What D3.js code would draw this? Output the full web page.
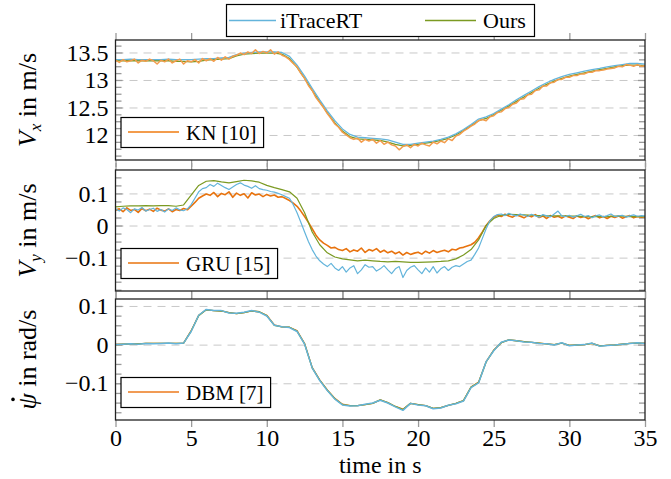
<!DOCTYPE html>
<html lang="en">
<head>
<meta charset="utf-8">
<script src="https://cdn.jsdelivr.net/npm/d3@7"></script>
</head>
<body style="margin:0">
<script>

// sample times (s)
let tHalf = [0, 0.5, 1, 1.5, 2, 2.5, 3, 3.5, 4, 4.5,
    5, 5.5, 6, 6.5, 7, 7.5, 8, 8.5, 9, 9.5,
    10, 10.5, 11, 11.5, 12, 12.5, 13, 13.5, 14, 14.5,
    15, 15.5, 16, 16.5, 17, 17.5, 18, 18.5, 19, 19.5,
    20, 20.5, 21, 21.5, 22, 22.5, 23, 23.5, 24, 24.5,
    25, 25.5, 26, 26.5, 27, 27.5, 28, 28.5, 29, 29.5,
    30, 30.5, 31, 31.5, 32, 32.5, 33, 33.5, 34, 34.5,
    35];

let tQuarter = [0, 0.25, 0.5, 0.75, 1, 1.25, 1.5, 1.75, 2, 2.25, 2.5, 2.75, 3, 3.25, 3.5, 3.75, 4, 4.25, 4.5, 4.75,
    5, 5.25, 5.5, 5.75, 6, 6.25, 6.5, 6.75, 7, 7.25, 7.5, 7.75, 8, 8.25, 8.5, 8.75, 9, 9.25, 9.5, 9.75,
    10, 10.25, 10.5, 10.75, 11, 11.25, 11.5, 11.75, 12, 12.25, 12.5, 12.75, 13, 13.25, 13.5, 13.75, 14, 14.25, 14.5, 14.75,
    15, 15.25, 15.5, 15.75, 16, 16.25, 16.5, 16.75, 17, 17.25, 17.5, 17.75, 18, 18.25, 18.5, 18.75, 19, 19.25, 19.5, 19.75,
    20, 20.25, 20.5, 20.75, 21, 21.25, 21.5, 21.75, 22, 22.25, 22.5, 22.75, 23, 23.25, 23.5, 23.75, 24, 24.25, 24.5, 24.75,
    25, 25.25, 25.5, 25.75, 26, 26.25, 26.5, 26.75, 27, 27.25, 27.5, 27.75, 28, 28.25, 28.5, 28.75, 29, 29.25, 29.5, 29.75,
    30, 30.25, 30.5, 30.75, 31, 31.25, 31.5, 31.75, 32, 32.25, 32.5, 32.75, 33, 33.25, 33.5, 33.75, 34, 34.25, 34.5, 34.75,
    35];

// V_x in m/s
let vxITrace = [13.37, 13.37, 13.38, 13.37, 13.37, 13.37, 13.37, 13.38, 13.37, 13.37,
    13.37, 13.38, 13.39, 13.39, 13.40, 13.41, 13.46, 13.49, 13.50, 13.51,
    13.51, 13.51, 13.50, 13.43, 13.27, 13.07, 12.85, 12.64, 12.44, 12.26,
    12.11, 12.01, 11.96, 11.95, 11.94, 11.93, 11.91, 11.87, 11.83, 11.83,
    11.85, 11.87, 11.89, 11.92, 11.96, 12.02, 12.10, 12.19, 12.29, 12.33,
    12.39, 12.47, 12.55, 12.64, 12.72, 12.80, 12.88, 12.95, 13.01, 13.06,
    13.10, 13.13, 13.16, 13.19, 13.21, 13.24, 13.26, 13.28, 13.30, 13.30,
    13.29];
let vxOurs = [13.35, 13.35, 13.35, 13.35, 13.35, 13.35, 13.35, 13.35, 13.34, 13.34,
    13.33, 13.34, 13.36, 13.37, 13.38, 13.39, 13.44, 13.47, 13.48, 13.49,
    13.49, 13.49, 13.47, 13.39, 13.23, 13.03, 12.81, 12.60, 12.40, 12.22,
    12.07, 11.97, 11.93, 11.92, 11.91, 11.90, 11.87, 11.83, 11.80, 11.81,
    11.83, 11.85, 11.87, 11.90, 11.94, 12.00, 12.08, 12.17, 12.26, 12.30,
    12.37, 12.45, 12.53, 12.61, 12.69, 12.77, 12.85, 12.92, 12.98, 13.03,
    13.07, 13.10, 13.13, 13.16, 13.19, 13.21, 13.24, 13.26, 13.27, 13.27,
    13.26];
let vxKN = [13.36, 13.32, 13.37, 13.33, 13.35, 13.38, 13.31, 13.36, 13.34, 13.38, 13.35, 13.29, 13.36, 13.33, 13.38, 13.31, 13.35, 13.38, 13.29, 13.35,
    13.33, 13.37, 13.31, 13.39, 13.35, 13.39, 13.34, 13.41, 13.36, 13.42, 13.38, 13.43, 13.45, 13.49, 13.46, 13.51, 13.48, 13.55, 13.48, 13.52,
    13.49, 13.55, 13.47, 13.51, 13.45, 13.42, 13.37, 13.30, 13.24, 13.12, 13.03, 12.90, 12.81, 12.68, 12.59, 12.50, 12.39, 12.30, 12.20, 12.14,
    12.05, 12.00, 11.95, 11.92, 11.94, 11.87, 11.92, 11.89, 11.92, 11.85, 11.90, 11.83, 11.87, 11.82, 11.80, 11.73, 11.79, 11.82, 11.77, 11.83,
    11.80, 11.85, 11.82, 11.80, 11.87, 11.84, 11.89, 11.86, 11.93, 11.90, 11.98, 12.01, 12.07, 12.11, 12.16, 12.20, 12.26, 12.28, 12.26, 12.33,
    12.35, 12.41, 12.42, 12.48, 12.50, 12.56, 12.58, 12.65, 12.66, 12.73, 12.74, 12.81, 12.82, 12.89, 12.89, 12.95, 12.96, 13.01, 13.01, 13.05,
    13.05, 13.08, 13.08, 13.11, 13.11, 13.14, 13.14, 13.17, 13.17, 13.18, 13.20, 13.21, 13.22, 13.25, 13.24, 13.28, 13.27, 13.25, 13.28, 13.25,
    13.26];

// V_y in m/s
let vyITrace = [0.052, 0.045, 0.055, 0.050, 0.040, 0.052, 0.048, 0.056, 0.045, 0.050, 0.054, 0.044, 0.050, 0.042, 0.052, 0.047, 0.055, 0.049, 0.046, 0.052,
    0.065, 0.085, 0.105, 0.115, 0.118, 0.128, 0.122, 0.132, 0.125, 0.118, 0.112, 0.120, 0.128, 0.133, 0.126, 0.122, 0.116, 0.124, 0.115, 0.112,
    0.110, 0.106, 0.104, 0.100, 0.096, 0.090, 0.085, 0.065, 0.040, 0.010, -0.020, -0.050, -0.075, -0.095, -0.110, -0.120, -0.128, -0.118, -0.132, -0.140,
    -0.128, -0.145, -0.132, -0.125, -0.150, -0.138, -0.122, -0.130, -0.128, -0.142, -0.135, -0.125, -0.138, -0.150, -0.135, -0.128, -0.162, -0.140, -0.130, -0.125,
    -0.138, -0.150, -0.132, -0.145, -0.128, -0.148, -0.135, -0.128, -0.140, -0.130, -0.125, -0.128, -0.120, -0.112, -0.108, -0.090, -0.070, -0.040, -0.010, 0.015,
    0.028, 0.034, 0.036, 0.031, 0.038, 0.033, 0.030, 0.036, 0.032, 0.028, 0.035, 0.030, 0.026, 0.034, 0.030, 0.027, 0.036, 0.045, 0.030, 0.028,
    0.032, 0.026, 0.030, 0.035, 0.028, 0.031, 0.024, 0.030, 0.033, 0.027, 0.031, 0.036, 0.028, 0.030, 0.032, 0.026, 0.030, 0.033, 0.029, 0.031,
    0.030];
let vyOurs = [0.058, 0.060, 0.061, 0.061, 0.062, 0.061, 0.062, 0.062, 0.060, 0.064,
    0.095, 0.125, 0.138, 0.140, 0.136, 0.133, 0.137, 0.141, 0.139, 0.135,
    0.125, 0.118, 0.112, 0.105, 0.085, 0.040, -0.020, -0.060, -0.085, -0.098,
    -0.104, -0.107, -0.110, -0.108, -0.110, -0.112, -0.113, -0.112, -0.113, -0.115,
    -0.115, -0.114, -0.113, -0.112, -0.110, -0.104, -0.092, -0.075, -0.045, 0.000,
    0.022, 0.032, 0.035, 0.034, 0.033, 0.032, 0.031, 0.030, 0.030, 0.030,
    0.029, 0.029, 0.028, 0.028, 0.028, 0.028, 0.029, 0.029, 0.028, 0.028,
    0.028];
let vyGRU = [0.048, 0.052, 0.043, 0.055, 0.047, 0.050, 0.041, 0.053, 0.046, 0.051, 0.044, 0.054, 0.048, 0.045, 0.052, 0.043, 0.050, 0.047, 0.053, 0.049,
    0.060, 0.072, 0.085, 0.092, 0.098, 0.094, 0.103, 0.090, 0.100, 0.096, 0.105, 0.088, 0.101, 0.094, 0.099, 0.086, 0.102, 0.095, 0.098, 0.090,
    0.097, 0.092, 0.095, 0.088, 0.090, 0.084, 0.078, 0.070, 0.060, 0.045, 0.028, 0.010, -0.010, -0.030, -0.045, -0.055, -0.062, -0.070, -0.068, -0.075,
    -0.078, -0.072, -0.082, -0.076, -0.080, -0.070, -0.084, -0.075, -0.079, -0.072, -0.083, -0.077, -0.085, -0.080, -0.088, -0.082, -0.092, -0.084, -0.090, -0.086,
    -0.083, -0.089, -0.080, -0.086, -0.078, -0.084, -0.080, -0.077, -0.082, -0.074, -0.076, -0.070, -0.068, -0.064, -0.060, -0.052, -0.038, -0.020, 0.000, 0.015,
    0.026, 0.032, 0.028, 0.035, 0.030, 0.026, 0.033, 0.029, 0.024, 0.031, 0.027, 0.034, 0.025, 0.030, 0.022, 0.031, 0.026, 0.029, 0.023, 0.030,
    0.026, 0.022, 0.030, 0.025, 0.028, 0.021, 0.027, 0.031, 0.024, 0.028, 0.022, 0.029, 0.025, 0.030, 0.023, 0.027, 0.031, 0.024, 0.028, 0.026,
    0.027];

// yaw rate in rad/s
let yrITrace = [0.000, 0.001, 0.002, 0.001, 0.003, 0.002, 0.003, 0.004, 0.002, 0.004,
    0.034, 0.076, 0.091, 0.088, 0.088, 0.082, 0.081, 0.084, 0.088, 0.084,
    0.074, 0.050, 0.046, 0.044, 0.034, 0.001, -0.060, -0.093, -0.119, -0.141,
    -0.156, -0.159, -0.158, -0.154, -0.151, -0.144, -0.151, -0.161, -0.170, -0.152,
    -0.156, -0.158, -0.166, -0.164, -0.157, -0.153, -0.146, -0.111, -0.099, -0.044,
    -0.016, 0.006, 0.012, 0.010, 0.007, 0.006, 0.003, 0.002, -0.001, 0.005,
    -0.003, -0.001, 0.000, 0.004, -0.004, -0.002, -0.001, 0.001, 0.003, 0.005,
    0.003];
let yrOurs = [0.000, 0.001, 0.002, 0.002, 0.003, 0.003, 0.003, 0.003, 0.003, 0.004,
    0.035, 0.075, 0.090, 0.088, 0.087, 0.083, 0.080, 0.083, 0.087, 0.085,
    0.075, 0.050, 0.046, 0.045, 0.035, 0.002, -0.060, -0.092, -0.118, -0.140,
    -0.155, -0.158, -0.158, -0.155, -0.152, -0.143, -0.150, -0.160, -0.168, -0.152,
    -0.155, -0.158, -0.165, -0.163, -0.157, -0.152, -0.145, -0.110, -0.098, -0.045,
    -0.015, 0.005, 0.012, 0.010, 0.008, 0.006, 0.004, 0.002, 0.000, 0.004,
    -0.002, -0.001, 0.000, 0.003, -0.003, -0.002, -0.001, 0.001, 0.003, 0.004,
    0.003];
let yrDBM = [0.001, 0.001, 0.002, 0.002, 0.003, 0.003, 0.003, 0.003, 0.003, 0.004,
    0.036, 0.076, 0.090, 0.088, 0.087, 0.083, 0.080, 0.083, 0.087, 0.085,
    0.076, 0.051, 0.046, 0.045, 0.036, 0.003, -0.059, -0.091, -0.117, -0.139,
    -0.154, -0.158, -0.158, -0.155, -0.152, -0.143, -0.150, -0.160, -0.167, -0.152,
    -0.155, -0.158, -0.165, -0.163, -0.157, -0.152, -0.145, -0.110, -0.097, -0.044,
    -0.014, 0.005, 0.012, 0.010, 0.008, 0.006, 0.004, 0.002, 0.000, 0.004,
    -0.002, -0.001, 0.000, 0.003, -0.003, -0.002, -0.001, 0.001, 0.003, 0.004,
    0.004];

let xTicks = [0, 5, 10, 15, 20, 25, 30, 35];

// styles
let blue = "#63b4db";
let olive = "#7b9a22";
let serifFont = "'Liberation Serif'";

let w = 671;
let h = 479;
let left = 115.5, right = 645;

let svg = d3.select("body")
    .append("svg")
    .attr("width", w)
    .attr("height", h);

let x = d3.scaleLinear().domain([0, 35]).range([left, right]);

let panels = [
    {top: 40, bottom: 160, domain: [11.545, 13.727], major: [12, 12.5, 13, 13.5], step: 0.125,
        label: ["V", "x", " in m/s"], legend: "KN [10]", legendColor: "#f39c4c", legendWidth: 2.2,
        series: [
            {t: tHalf, v: vxOurs, color: olive, width: 1.3},
            {t: tHalf, v: vxITrace, color: blue, width: 1.3},
            {t: tQuarter, v: vxKN, color: "#f39c4c", width: 1.5}
        ]},
    {top: 170, bottom: 291, domain: [-0.204, 0.173], major: [-0.1, 0, 0.1], step: 0.025,
        label: ["V", "y", " in m/s"], legend: "GRU [15]", legendColor: "#e8730e", legendWidth: 1.5,
        series: [
            {t: tQuarter, v: vyGRU, color: "#e8730e", width: 1.6},
            {t: tHalf, v: vyOurs, color: olive, width: 1.2},
            {t: tQuarter, v: vyITrace, color: blue, width: 1.2}
        ]},
    {top: 299, bottom: 420, domain: [-0.195, 0.118], major: [-0.1, 0, 0.1], step: 0.025,
        label: ["ψ", "", " in rad/s"], legend: "DBM [7]", legendColor: "#ec7a1c", legendWidth: 1.5,
        series: [
            {t: tHalf, v: yrDBM, color: "#ec7a1c", width: 1.3},
            {t: tHalf, v: yrOurs, color: olive, width: 1.3},
            {t: tHalf, v: yrITrace, color: blue, width: 1.5}
        ]}
];

let fmt = d3.format("~g");

panels.forEach(function (p, i) {
    let y = d3.scaleLinear().domain(p.domain).range([p.bottom, p.top]);
    let g = svg.append("g");

    // dashed grid
    g.append("g")
        .attr("transform", "translate(" + left + ",0)")
        .call(d3.axisLeft(y).tickValues(p.major).tickSize(-(right - left)).tickFormat(""))
        .call(s => s.select(".domain").remove())
        .selectAll("line")
        .attr("stroke", "#c8c8c8")
        .attr("stroke-width", 1)
        .attr("stroke-dasharray", "8,6");

    // minor ticks, both sides
    let minor = d3.range(Math.ceil(p.domain[0] / p.step) * p.step, p.domain[1], p.step)
        .filter(v => !p.major.some(m => Math.abs(m - v) < 1e-6));
    [[d3.axisLeft, left], [d3.axisRight, right]].forEach(function (a) {
        g.append("g")
            .attr("transform", "translate(" + a[1] + ",0)")
            .call(a[0](y).tickValues(minor).tickSize(-6).tickFormat(""))
            .call(s => s.select(".domain").remove())
            .selectAll("line")
            .attr("stroke", "#9a9a9a")
            .attr("stroke-width", 1.3);
        g.append("g")
            .attr("transform", "translate(" + a[1] + ",0)")
            .call(a[0](y).tickValues(p.major).tickSize(-7).tickFormat(""))
            .call(s => s.select(".domain").remove())
            .selectAll("line")
            .attr("stroke", "#9a9a9a")
            .attr("stroke-width", 1.3);
    });

    // x ticks top and bottom
    [[d3.axisTop, p.bottom], [d3.axisBottom, p.top]].forEach(function (a) {
        g.append("g")
            .attr("transform", "translate(0," + a[1] + ")")
            .call(a[0](x).tickValues(xTicks).tickSize(-7).tickFormat(""))
            .call(s => s.select(".domain").remove())
            .selectAll("line")
            .attr("stroke", "#9a9a9a")
            .attr("stroke-width", 1.3);
    });

    // y tick labels
    g.append("g")
        .attr("transform", "translate(" + left + ",0)")
        .call(d3.axisLeft(y).tickValues(p.major).tickSize(0).tickPadding(7).tickFormat(fmt))
        .call(s => s.select(".domain").remove())
        .attr("font-family", null)
        .selectAll("text")
        .style("font-family", serifFont)
        .style("font-size", "24px");

    // lines
    let clipId = "clip" + i;
    svg.append("clipPath").attr("id", clipId)
        .append("rect")
        .attr("x", left).attr("y", p.top)
        .attr("width", right - left).attr("height", p.bottom - p.top);

    let lines = g.append("g").attr("clip-path", "url(#" + clipId + ")");
    p.series.forEach(function (s) {
        let line = d3.line()
            .x((d, k) => x(s.t[k]))
            .y(d => y(d));
        lines.append("path")
            .datum(s.v)
            .attr("d", line)
            .attr("fill", "none")
            .attr("stroke", s.color)
            .attr("stroke-width", s.width)
            .attr("stroke-linejoin", "round");
    });

    // frame
    g.append("rect")
        .attr("x", left).attr("y", p.top)
        .attr("width", right - left).attr("height", p.bottom - p.top)
        .attr("fill", "none")
        .attr("stroke", "#222")
        .attr("stroke-width", 1.3);

    // y label (rotated)
    let lg0 = svg.append("g")
        .attr("transform", "translate(27," + ((p.top + p.bottom) / 2) + ") rotate(-90)");
    let lab = lg0.append("text")
        .attr("text-anchor", "middle")
        .attr("dy", "0.35em")
        .style("font-family", serifFont)
        .style("font-size", "26px");
    lab.append("tspan").style("font-style", "italic").text(p.label[0]);
    if (p.label[1]) {
        lab.append("tspan").style("font-style", "italic").style("font-size", "17px")
            .attr("dy", "5").text(p.label[1]);
        lab.append("tspan").attr("dy", "-5").text(p.label[2]);
    } else {
        lab.append("tspan").text(p.label[2]);
        // dot over psi
        let c = lab.node().getExtentOfChar(0);
        lg0.append("circle")
            .attr("cx", c.x + c.width / 2 + 2)
            .attr("cy", -14)
            .attr("r", 1.8)
            .attr("fill", "#000");
    }

    // legend in panel
    let lx = left + 5.5, ly = p.bottom - 42.5;
    let lg = svg.append("g");
    let box = lg.append("rect")
        .attr("x", lx).attr("y", ly).attr("height", 30)
        .attr("fill", "#fff").attr("stroke", "#000").attr("stroke-width", 1.2);
    lg.append("line")
        .attr("x1", lx + 7).attr("x2", lx + 58)
        .attr("y1", ly + 14.5).attr("y2", ly + 14.5)
        .attr("stroke", p.legendColor).attr("stroke-width", p.legendWidth);
    let lt = lg.append("text")
        .attr("x", lx + 65).attr("y", ly + 22)
        .style("font-family", serifFont)
        .style("font-size", "21px")
        .text(p.legend);
    box.attr("width", lt.node().getComputedTextLength() + 72);
});

// bottom axis labels
svg.append("g")
    .attr("transform", "translate(0,420)")
    .call(d3.axisBottom(x).tickValues(xTicks).tickSize(0).tickPadding(9).tickFormat(fmt))
    .call(s => s.select(".domain").remove())
    .attr("font-family", null)
    .selectAll("text")
    .style("font-family", serifFont)
    .style("font-size", "24px");

svg.append("text")
    .attr("x", (left + right) / 2)
    .attr("y", 473)
    .attr("text-anchor", "middle")
    .style("font-family", serifFont)
    .style("font-size", "24px")
    .text("time in s");

// top legend
let legendTop = svg.append("g");
legendTop.append("rect")
    .attr("x", 226.5).attr("y", 4.5).attr("width", 308).attr("height", 32)
    .attr("fill", "#fff").attr("stroke", "#000").attr("stroke-width", 1.2);
legendTop.append("line")
    .attr("x1", 229).attr("x2", 276).attr("y1", 20.5).attr("y2", 20.5)
    .attr("stroke", blue).attr("stroke-width", 1.6);
legendTop.append("text").attr("x", 280).attr("y", 28)
    .style("font-family", serifFont).style("font-size", "22px").text("iTraceRT");
legendTop.append("line")
    .attr("x1", 425).attr("x2", 476).attr("y1", 20.5).attr("y2", 20.5)
    .attr("stroke", olive).attr("stroke-width", 1.6);
legendTop.append("text").attr("x", 483).attr("y", 28)
    .style("font-family", serifFont).style("font-size", "22px").text("Ours");

</script>
</body>
</html>
